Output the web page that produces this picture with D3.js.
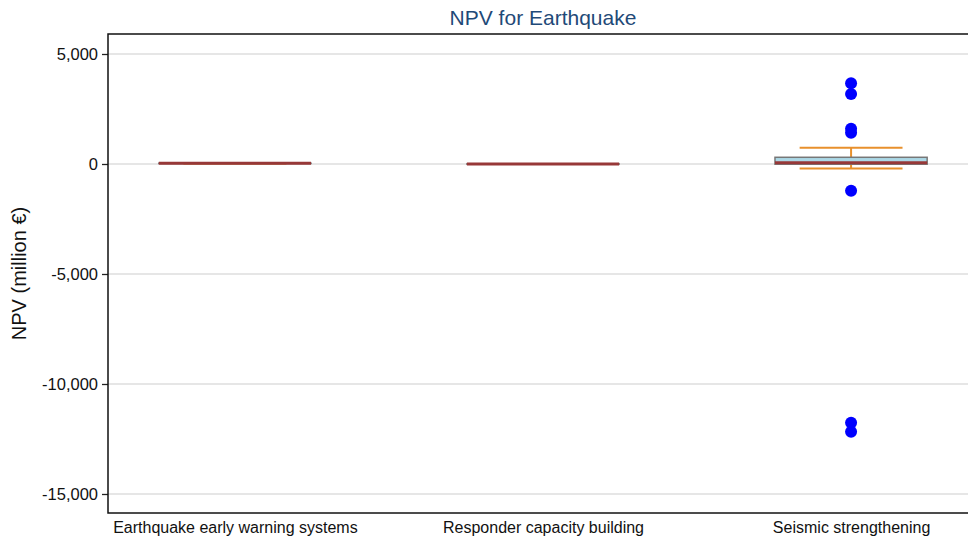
<!DOCTYPE html>
<html>
<head>
<meta charset="utf-8">
<script src="https://cdn.jsdelivr.net/npm/d3@7"></script>
<style>
  html, body { margin: 0; padding: 0; background: #fff; }
  svg { display: block; font-family: "Liberation Sans", Arial, Helvetica, sans-serif; }
</style>
</head>
<body>
<svg id="chart" width="968" height="540"></svg>
<script>
// ---- data ----
const categories = ["Earthquake early warning systems", "Responder capacity building", "Seismic strengthening"];
const q1Values = [25, -5, -10];
const medianValues = [30, 0, 55];
const q3Values = [35, 5, 305];
const whiskerLowValues = [25, -5, -205];
const whiskerHighValues = [35, 5, 736];
const outlierValues = [[], [], [3668, 3182, 1600, 1420, -1213, -11759, -12168]];
const yTickValues = [5000, 0, -5000, -10000, -15000];
const titleText = "NPV for Earthquake";
const yLabelText = "NPV (million €)";

(function () {
// ---- layout ----
const svg = d3.select("#chart");
const pLeft = 108, pRight = 978, pTop = 34, pBottom = 513;

const x = d3.scalePoint().domain(categories).range([pLeft, pRight]).padding(0.412);
const y = d3.scaleLinear().domain([-15864, 5909]).range([pBottom, pTop]);
const step = x.step();
const boxW = step * 0.494;
const capW = step * 0.334;
const fmt = d3.formatLocale({ decimal: ".", thousands: ",", grouping: [3], currency: ["", ""], minus: "-" }).format(",");

// gridlines
svg.append("g").selectAll("line").data(yTickValues).join("line")
  .attr("x1", pLeft).attr("x2", pRight)
  .attr("y1", d => y(d)).attr("y2", d => y(d))
  .attr("stroke", "#dedede").attr("stroke-width", 1.5);

// y axis
const yAxis = svg.append("g").attr("transform", `translate(${pLeft},0)`)
  .call(d3.axisLeft(y).tickValues(yTickValues).tickFormat(fmt).tickSize(6).tickSizeOuter(0).tickPadding(4));
yAxis.select(".domain").remove();
yAxis.selectAll(".tick line").attr("stroke", "#222").attr("stroke-width", 1.3);
yAxis.selectAll(".tick text").attr("font-size", 16.5).attr("fill", "#111")
  .attr("font-family", "'Liberation Sans', Arial, sans-serif");

// x axis labels
const xAxis = svg.append("g").attr("transform", `translate(0,${pBottom})`)
  .call(d3.axisBottom(x).tickSize(0).tickPadding(9));
xAxis.select(".domain").remove();
xAxis.selectAll(".tick text").attr("font-size", 16).attr("fill", "#111")
  .attr("font-family", "'Liberation Sans', Arial, sans-serif");

// boxes
const rows = categories.map((c, i) => ({
  c, q1: q1Values[i], med: medianValues[i], q3: q3Values[i],
  lo: whiskerLowValues[i], hi: whiskerHighValues[i], out: outlierValues[i]
}));

const g = svg.append("g");
rows.forEach(r => {
  const cx = x(r.c);
  const wc = "#e8902c";
  g.append("line").attr("x1", cx).attr("x2", cx).attr("y1", y(r.hi)).attr("y2", y(r.q3))
    .attr("stroke", wc).attr("stroke-width", 2);
  g.append("line").attr("x1", cx).attr("x2", cx).attr("y1", y(r.lo)).attr("y2", y(r.q1))
    .attr("stroke", wc).attr("stroke-width", 2);
  [r.hi, r.lo].forEach(v => {
    g.append("line").attr("x1", cx - capW / 2).attr("x2", cx + capW / 2)
      .attr("y1", y(v)).attr("y2", y(v)).attr("stroke", wc).attr("stroke-width", 2);
  });
  g.append("rect").attr("x", cx - boxW / 2).attr("width", boxW)
    .attr("y", y(r.q3)).attr("height", Math.max(0, y(r.q1) - y(r.q3)))
    .attr("fill", "#acd8e6").attr("stroke", "#777").attr("stroke-width", 1.5);
  g.append("line").attr("x1", cx - boxW / 2).attr("x2", cx + boxW / 2)
    .attr("y1", y(r.med)).attr("y2", y(r.med))
    .attr("stroke", "#973838").attr("stroke-width", 3);
  g.selectAll(null).data(r.out).join("circle")
    .attr("cx", cx).attr("cy", d => y(d)).attr("r", 6).attr("fill", "#0000ff");
});

// frame
svg.append("rect").attr("x", pLeft).attr("y", pTop).attr("width", pRight - pLeft).attr("height", pBottom - pTop)
  .attr("fill", "none").attr("stroke", "#111").attr("stroke-width", 1.5);

// title
svg.append("text").attr("x", (pLeft + pRight) / 2).attr("y", 25).attr("text-anchor", "middle")
  .attr("font-size", 21).attr("fill", "#1f4a78").text(titleText);

// y label
svg.append("text").attr("transform", `translate(26,${(pTop + pBottom) / 2}) rotate(-90)`)
  .attr("text-anchor", "middle").attr("font-size", 20).attr("fill", "#111").text(yLabelText);
})();
</script>
</body>
</html>
